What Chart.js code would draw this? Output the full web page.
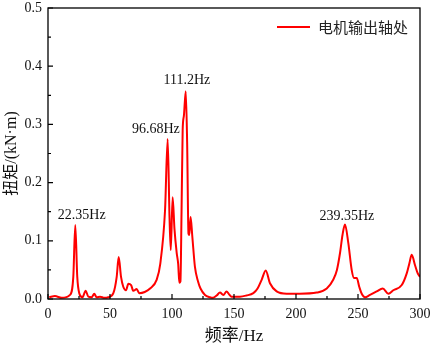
<!DOCTYPE html>
<html>
<head>
<meta charset="utf-8">
<script src="https://cdn.jsdelivr.net/npm/chart.js@4/dist/chart.umd.min.js"></script>
<style>
  html, body { margin: 0; padding: 0; background: #fff; }
  #wrap { width: 432px; height: 347px; }
</style>
</head>
<body>
<div id="wrap"><canvas id="chart" width="432" height="347"></canvas></div>
<script>
// Frequency spectrum data
const freqs = [1, 5.6, 11, 17.7, 20.4, 22, 23.6, 25.2, 27.7, 30.4, 32.5, 35.2, 37.3, 39.2, 42, 45.4, 48.6,
    52.7, 55.4, 57, 58.9, 60.7, 62.9, 64.8, 67, 68.8, 71.5, 73.6, 78, 82.3, 87.6, 90.5, 94.4, 96.5, 98, 99,
    100.5, 102, 103.8, 105, 105.9, 106.8, 107.7, 108.6, 109.6, 111.1, 112.2, 113.3, 114, 115, 116.4, 118.5,
    121, 123, 126.6, 130.6, 133, 136, 138.7, 141.4, 144, 146, 148, 154.8, 160, 165.6, 169, 172.3, 175.6,
    179, 184.4, 192.5, 203, 216.7, 224.8, 230, 233, 235.5, 237.5, 239.5, 242.2, 244.9, 246.8, 249, 251,
    253, 255.6, 259.7, 265, 270, 274.5, 278.5, 285.3, 289.3, 291.5, 293.3, 296, 298, 300];
const torque = [0.003, 0.005, 0.002, 0.007, 0.038, 0.127, 0.038, 0.01, 0.003, 0.014, 0.004, 0.003, 0.009, 0.003, 0.004, 0.002, 0.003,
    0.01, 0.038, 0.072, 0.038, 0.021, 0.015, 0.026, 0.024, 0.014, 0.017, 0.01, 0.012, 0.018, 0.033, 0.06, 0.153, 0.275, 0.14, 0.084,
    0.175, 0.12, 0.079, 0.06, 0.028, 0.03, 0.15, 0.29, 0.315, 0.357, 0.27, 0.112, 0.11, 0.141, 0.107, 0.055,
    0.03, 0.018, 0.007, 0.003, 0.002, 0.006, 0.011, 0.007, 0.013, 0.008, 0.004, 0.004, 0.006, 0.01, 0.018, 0.033, 0.049,
    0.027, 0.013, 0.009, 0.009, 0.011, 0.018, 0.033, 0.05, 0.079, 0.11, 0.128, 0.096, 0.05, 0.036, 0.036, 0.021,
    0.009, 0.003, 0.007, 0.013, 0.018, 0.009, 0.015, 0.024, 0.044, 0.062, 0.076, 0.058, 0.045, 0.038];

const seriesName = '电机输出轴处';
const xTicks = [0, 50, 100, 150, 200, 250, 300];
const yTicks = [0.0, 0.1, 0.2, 0.3, 0.4, 0.5];

// peak annotations
const peakFreqs = [22.35, 96.68, 111.2, 239.35];
const peakValues = [0.127, 0.275, 0.357, 0.128];
const peakLabels = ['22.35Hz', '96.68Hz', '111.2Hz', '239.35Hz'];

const serif = '"Liberation Serif", "Times New Roman", serif';
const cjk = '"Liberation Serif", "Noto Sans CJK SC", serif';

// box, inward ticks, legend and peak labels
const decorPlugin = {
    id: 'decor',
    afterDraw(chart) {
        const ctx = chart.ctx;
        const a = chart.chartArea;
        const xs = chart.scales.x, ys = chart.scales.y;
        ctx.save();
        ctx.strokeStyle = '#000';
        ctx.lineWidth = 1.3;
        ctx.strokeRect(a.left, a.top, a.right - a.left, a.bottom - a.top);

        ctx.lineWidth = 1.2;
        ctx.beginPath();
        for (let i = 0; i < xTicks.length; i++) {
            const px = xs.getPixelForValue(xTicks[i]);
            ctx.moveTo(px, a.bottom); ctx.lineTo(px, a.bottom - 5);
            if (i < xTicks.length - 1) {
                const mx = xs.getPixelForValue((xTicks[i] + xTicks[i + 1]) / 2);
                ctx.moveTo(mx, a.bottom); ctx.lineTo(mx, a.bottom - 3);
            }
        }
        for (let i = 0; i < yTicks.length; i++) {
            const py = ys.getPixelForValue(yTicks[i]);
            ctx.moveTo(a.left, py); ctx.lineTo(a.left + 5, py);
            if (i < yTicks.length - 1) {
                const my = ys.getPixelForValue((yTicks[i] + yTicks[i + 1]) / 2);
                ctx.moveTo(a.left, my); ctx.lineTo(a.left + 3, my);
            }
        }
        ctx.stroke();

        // legend
        const ds = chart.data.datasets[0];
        ctx.strokeStyle = ds.borderColor;
        ctx.lineWidth = 2;
        ctx.beginPath();
        ctx.moveTo(277, 27); ctx.lineTo(310, 27);
        ctx.stroke();
        ctx.fillStyle = '#222';
        ctx.font = '15px "Noto Sans CJK SC"';
        ctx.textBaseline = 'middle';
        ctx.textAlign = 'left';
        ctx.fillText(ds.label, 318, 27);

        // peak labels
        const offs = [[6, -10], [-12, -10], [1, -11], [2, -8]];
        ctx.fillStyle = '#111';
        ctx.font = '14px ' + serif;
        ctx.textAlign = 'center';
        ctx.textBaseline = 'bottom';
        for (let i = 0; i < peakLabels.length; i++) {
            const px = xs.getPixelForValue(peakFreqs[i]) + offs[i][0];
            const py = ys.getPixelForValue(peakValues[i]) + offs[i][1] + 7;
            ctx.fillText(peakLabels[i], px, py);
        }
        ctx.restore();
    }
};

new Chart(document.getElementById('chart'), {
    type: 'line',
    data: {
        datasets: [{
            label: seriesName,
            data: freqs.map((f, i) => ({ x: f, y: torque[i] })),
            borderColor: '#ff0000',
            borderWidth: 2,
            pointRadius: 0,
            fill: false,
            cubicInterpolationMode: 'monotone'
        }]
    },
    options: {
        responsive: false,
        animation: false,
        layout: { padding: { top: 8, right: 12, left: 0, bottom: 0 } },
        plugins: { legend: { display: false }, tooltip: { enabled: false } },
        scales: {
            x: {
                type: 'linear', min: 0, max: 300,
                afterBuildTicks: s => { s.ticks = xTicks.map(v => ({ value: v })); },
                afterFit: s => { s.height = 48; s.paddingLeft = 0; s.paddingRight = 0; },
                grid: { display: false, drawTicks: false, tickLength: 0 },
                border: { display: false },
                ticks: { color: '#111', font: { family: serif, size: 14 }, padding: 7, maxRotation: 0 },
                title: { display: true, text: '频率/Hz', color: '#111', font: { family: cjk, size: 17 }, padding: { top: 0, bottom: 0 } }
            },
            y: {
                type: 'linear', min: 0, max: 0.5,
                afterBuildTicks: s => { s.ticks = yTicks.map(v => ({ value: v })); },
                afterFit: s => { s.width = 48; s.paddingTop = 0; s.paddingBottom = 0; },
                grid: { display: false, drawTicks: false, tickLength: 0 },
                border: { display: false },
                ticks: { color: '#111', font: { family: serif, size: 14 }, padding: 6, callback: v => v.toFixed(1) },
                title: { display: true, text: '扭矩/(kN·m)', color: '#111', font: { family: cjk, size: 16 }, padding: { top: 2, bottom: 0 } }
            }
        }
    },
    plugins: [decorPlugin]
});
</script>
</body>
</html>
